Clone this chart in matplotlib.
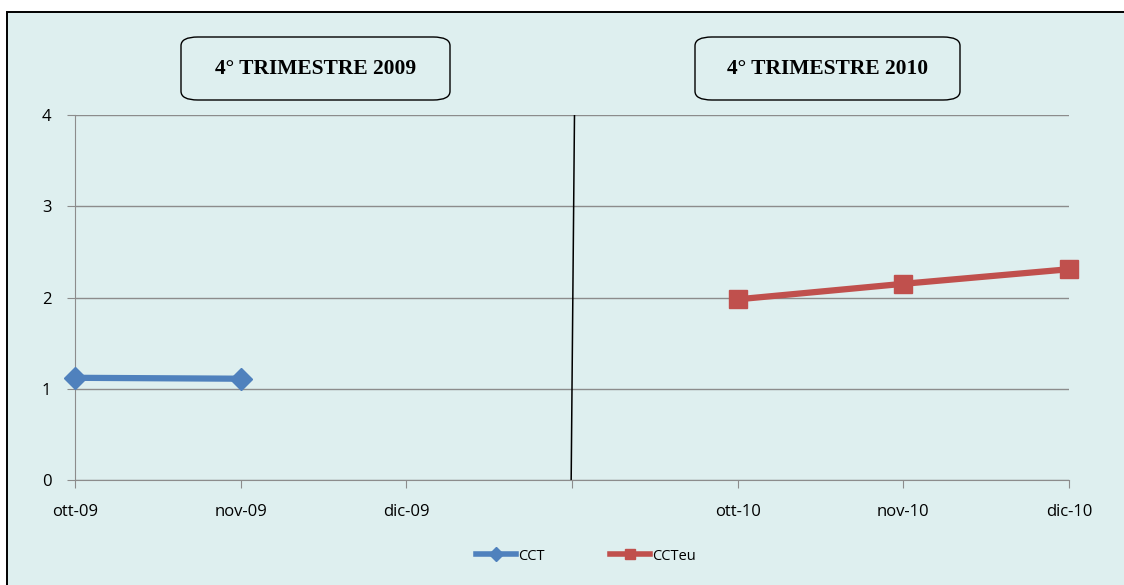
import matplotlib.pyplot as plt
from matplotlib.patches import FancyBboxPatch, Rectangle

months = ['ott-09', 'nov-09', 'dic-09', '', 'ott-10', 'nov-10', 'dic-10']
cct_x = [0, 1]
cct = [1.12, 1.11]
ccteu_x = [4, 5, 6]
ccteu = [1.98, 2.15, 2.31]
titles = ['4° TRIMESTRE 2009', '4° TRIMESTRE 2010']

bg = '#DEEFEF'
grid_c = '#8C8C8C'
blue = '#4F81BD'
red = '#C0504D'

fig = plt.figure(figsize=(11.24, 5.85), dpi=100)
fig.patch.set_facecolor('white')
# panel background: border only on left and top, runs off the right/bottom edges
fig.patches.append(Rectangle((7/1124, -0.1), 1.2, 1.1 - 12/585, transform=fig.transFigure,
                             facecolor=bg, edgecolor='black', linewidth=1.4, zorder=-1))

ax = fig.add_axes([75/1124, 1 - 480/585, (1069 - 75)/1124, (480 - 115)/585])
ax.patch.set_alpha(0)

ax.set_xlim(0, 6)
ax.set_ylim(0, 4)
ax.set_yticks([0, 1, 2, 3, 4])
ax.set_xticks(range(len(months)))
ax.set_xticklabels(months)
ax.yaxis.grid(True, color=grid_c, linewidth=1)
ax.set_axisbelow(True)
for s in ['top', 'right']:
    ax.spines[s].set_visible(False)
for s in ['left', 'bottom']:
    ax.spines[s].set_color(grid_c)
ax.tick_params(axis='both', colors=grid_c, length=6, labelcolor='black', labelsize=12)
ax.tick_params(axis='x', pad=11)
ax.tick_params(axis='y', pad=11)
for lab in ax.get_xticklabels() + ax.get_yticklabels():
    lab.set_fontfamily('Open Sans')

# separator between the two quarters
ax.plot([3.015, 2.995], [4, 0], color='black', linewidth=1.1, zorder=2)

ax.plot(cct_x, cct, color=blue, linewidth=4.5, marker='D', markersize=11,
        label='CCT', clip_on=False, zorder=3)
ax.plot(ccteu_x, ccteu, color=red, linewidth=4.5, marker='s', markersize=13,
        label='CCTeu', clip_on=False, zorder=3)

leg = fig.legend(loc='center', bbox_to_anchor=(586/1124, 1 - 556/585), ncol=2, frameon=False,
                 handlelength=2.7, handletextpad=0.15, columnspacing=4.5,
                 prop={'family': 'Open Sans', 'size': 10.5})
for h in leg.legend_handles:
    h.set_markersize(7)
    h.set_linewidth(4)

boxes = [(181, 450), (695, 960)]
for (x0, x1), t in zip(boxes, titles):
    fig.patches.append(FancyBboxPatch((x0/1124, 1 - 100/585), (x1 - x0)/1124, 63/585,
                                      boxstyle='round,pad=0,rounding_size=0.015',
                                      transform=fig.transFigure, facecolor=bg,
                                      edgecolor='black', linewidth=1))
    fig.text((x0 + x1)/2/1124, 1 - 69/585, t, ha='center', va='center',
             fontfamily='Liberation Serif', fontweight='bold', fontsize=15.5)

fig.savefig('out.png', dpi=100)
